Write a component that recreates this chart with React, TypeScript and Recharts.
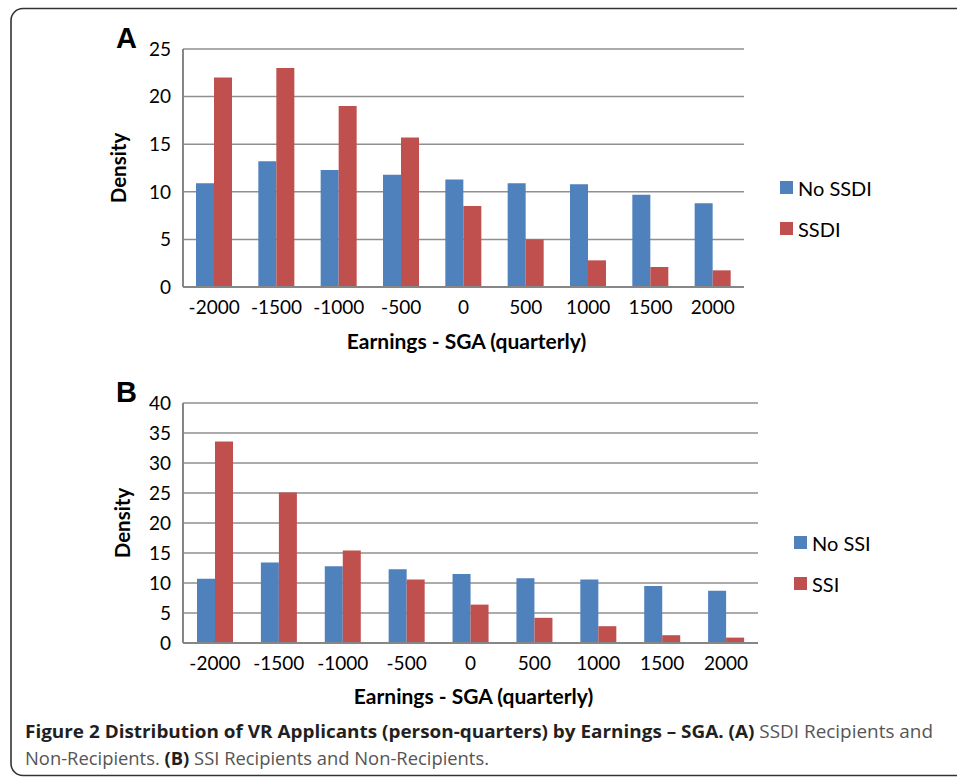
import React from 'react';
import { BarChart, Bar, XAxis, YAxis, CartesianGrid, Legend, Label } from 'recharts';

// ---- data ----
const categories = ['-2000', '-1500', '-1000', '-500', '0', '500', '1000', '1500', '2000'];
const noSsdiValues = [10.9, 13.2, 12.3, 11.8, 11.3, 10.9, 10.8, 9.7, 8.8];
const ssdiValues = [22.0, 23.0, 19.0, 15.7, 8.5, 5.0, 2.8, 2.1, 1.75];
const noSsiValues = [10.7, 13.4, 12.8, 12.3, 11.5, 10.8, 10.6, 9.5, 8.7];
const ssiValues = [33.6, 25.1, 15.4, 10.6, 6.4, 4.2, 2.8, 1.3, 0.9];
const ticksA = [0, 5, 10, 15, 20, 25];
const ticksB = [0, 5, 10, 15, 20, 25, 30, 35, 40];
const seriesNamesA = ['No SSDI', 'SSDI'];
const seriesNamesB = ['No SSI', 'SSI'];
const xTitle = 'Earnings - SGA (quarterly)';
const yTitle = 'Density';

const BLUE = '#4F81BD';
const RED = '#C0504D';
const FONT = 'Lato, "Open Sans", sans-serif';
const AXIS = '#868686';
const GRID = '#8f8f8f';

const dataA = categories.map((c, i) => ({ cat: c, a: noSsdiValues[i], b: ssdiValues[i] }));
const dataB = categories.map((c, i) => ({ cat: c, a: noSsiValues[i], b: ssiValues[i] }));

type PanelProps = {
  top: number;
  height: number;
  margin: { top: number; right: number; bottom: number; left: number };
  data: any[];
  names: string[];
  ticks: number[];
  max: number;
  legendLeft: number;
  legendTop: number;
  densityDx: number;
  titleOffset: number;
};

const renderLegend = (props: any) => {
  const payload = props.payload || [];
  return (
    <div style={{ fontFamily: FONT, fontSize: 20, color: '#000' }}>
      {payload.map((p: any) => (
        <div key={p.value} style={{ height: 41, display: 'flex', alignItems: 'center' }}>
          <span style={{ display: 'inline-block', width: 13, height: 13, background: p.color, marginRight: 5 }} />
          <span style={{ lineHeight: '20px' }}>{p.value}</span>
        </div>
      ))}
    </div>
  );
};

function Panel(p: PanelProps) {
  const tick = { fontSize: 19, fill: '#000', fontFamily: FONT };
  return (
    <div style={{ position: 'absolute', left: 0, top: p.top, width: 957, height: p.height }}>
      <BarChart width={957} height={p.height} data={p.data} margin={p.margin} barGap={0} barSize={18}>
        <CartesianGrid vertical={false} stroke={GRID} strokeWidth={1.5} />
        <XAxis
          dataKey="cat"
          interval={0}
          tickLine={false}
          tickSize={0}
          tickMargin={14}
          height={30}
          axisLine={{ stroke: AXIS, strokeWidth: 2 }}
          tick={tick}
        >
          <Label
            content={(lp: any) => {
              const vb = lp.viewBox;
              return (
                <text
                  x={vb.x + vb.width / 2 + 3}
                  y={vb.y + vb.height + p.titleOffset}
                  textAnchor="middle"
                  fontFamily={FONT}
                  fontWeight="bold"
                  fontSize={21}
                  fill="#000"
                >
                  {xTitle}
                </text>
              );
            }}
          />
        </XAxis>
        <YAxis
          width={83}
          domain={[0, p.max]}
          ticks={p.ticks}
          interval={0}
          tickLine={false}
          tickSize={0}
          tickMargin={12}
          axisLine={{ stroke: AXIS, strokeWidth: 2 }}
          tick={tick}
        >
          <Label
            content={(lp: any) => {
              const vb = lp.viewBox;
              const x = vb.x + p.densityDx;
              const y = vb.y + vb.height / 2;
              return (
                <text
                  x={x}
                  y={y}
                  transform={`rotate(-90 ${x} ${y})`}
                  textAnchor="middle"
                  fontFamily={FONT}
                  fontWeight="bold"
                  fontSize={20.5}
                  fill="#000"
                >
                  {yTitle}
                </text>
              );
            }}
          />
        </YAxis>
        <Legend
          layout="vertical"
          align="center"
          verticalAlign="middle"
          content={renderLegend}
          wrapperStyle={{ left: p.legendLeft, top: p.legendTop, width: 150, height: 82 }}
        />
        <Bar dataKey="a" name={p.names[0]} fill={BLUE} isAnimationActive={false} />
        <Bar dataKey="b" name={p.names[1]} fill={RED} isAnimationActive={false} />
      </BarChart>
    </div>
  );
}

export default function App() {
  return (
    <div style={{ position: 'absolute', left: 0, top: 0, width: 957, height: 778, overflow: 'hidden', background: '#fff' }}>
      <svg width={957} height={778} style={{ position: 'absolute', left: 0, top: 0 }}>
        <rect x={11} y={8.5} width={990} height={767} rx={12} ry={12} fill="none" stroke="#333" strokeWidth={1.6} />
        <text x={116} y={48} fontFamily='"Liberation Sans", Arial, sans-serif' fontWeight="bold" fontSize={29} fill="#000">A</text>
        <text x={116} y={402} fontFamily='"Liberation Sans", Arial, sans-serif' fontWeight="bold" fontSize={29} fill="#000">B</text>
        <text x={25} y={738} fontFamily='"Open Sans", sans-serif' fontSize={17.5} textLength={908} lengthAdjust="spacingAndGlyphs">
          <tspan fontWeight="bold" fill="#231f20">{'Figure 2 Distribution of VR Applicants (person-quarters) by Earnings – SGA. (A)'}</tspan>
          <tspan fill="#555">{' SSDI Recipients and'}</tspan>
        </text>
        <text x={25} y={765} fontFamily='"Open Sans", sans-serif' fontSize={17.5} textLength={464} lengthAdjust="spacingAndGlyphs">
          <tspan fill="#555">{'Non-Recipients. '}</tspan>
          <tspan fontWeight="bold" fill="#231f20">{'(B)'}</tspan>
          <tspan fill="#555">{' SSI Recipients and Non-Recipients.'}</tspan>
        </text>
      </svg>
      <Panel
        top={0}
        height={365}
        margin={{ top: 49, right: 213, bottom: 48, left: 100 }}
        data={dataA}
        names={seriesNamesA}
        ticks={ticksA}
        max={25}
        legendLeft={780}
        legendTop={167}
        densityDx={26}
        titleOffset={32}
      />
      <Panel
        top={360}
        height={360}
        margin={{ top: 43, right: 199, bottom: 47, left: 100 }}
        data={dataB}
        names={seriesNamesB}
        ticks={ticksB}
        max={40}
        legendLeft={794}
        legendTop={162}
        densityDx={29.5}
        titleOffset={31}
      />
    </div>
  );
}
